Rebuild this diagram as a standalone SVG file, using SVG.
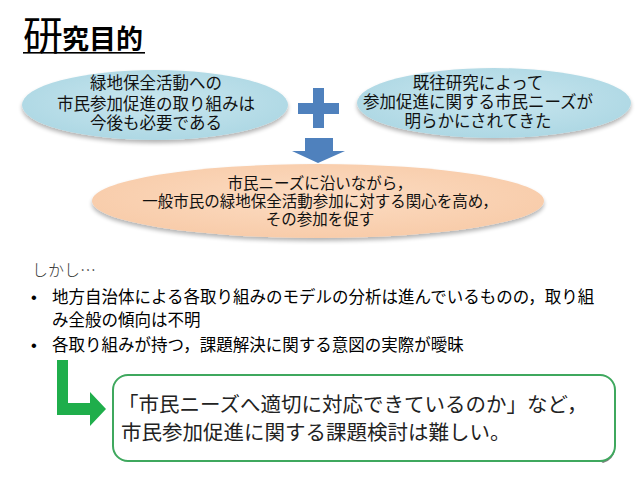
<svg xmlns="http://www.w3.org/2000/svg" width="638" height="479" viewBox="0 0 638 479">
<defs>
<radialGradient id="blue" cx="50%" cy="45%" r="55%">
<stop offset="0" stop-color="#c9e6ef"/>
<stop offset="1" stop-color="#aed8e4"/>
</radialGradient>
<radialGradient id="peach" cx="50%" cy="45%" r="55%">
<stop offset="0" stop-color="#fcdcc2"/>
<stop offset="1" stop-color="#f8ccaa"/>
</radialGradient>
<filter id="sh" x="-10%" y="-20%" width="120%" height="150%">
<feGaussianBlur in="SourceAlpha" stdDeviation="2"/>
<feOffset dx="0" dy="3" result="b"/>
<feComponentTransfer><feFuncA type="linear" slope="0.3"/></feComponentTransfer>
<feMerge><feMergeNode/><feMergeNode in="SourceGraphic"/></feMerge>
</filter>
</defs>
<style>
.jp{font-family:"Liberation Serif","Noto Sans CJK JP",serif;fill:#111;}
.el{font-size:16.5px;text-anchor:middle;}
.pe{font-size:15.5px;text-anchor:middle;}
.go{font-family:"Liberation Sans","Noto Sans CJK JP",sans-serif;fill:#000;font-size:16.5px;}
.bx{font-size:20.5px;fill:#222;}
</style>
<rect width="638" height="479" fill="#fff"/>

<g id="title">
<text x="23" y="50" font-family="Liberation Serif,'Noto Sans CJK JP',serif" font-size="40" fill="#000">研</text>
<text x="62" y="49" font-family="'Noto Sans CJK JP',sans-serif" font-size="27" font-weight="bold" fill="#000">究目的</text>
<rect x="23" y="52" width="122" height="1.6" fill="#000"/>
</g>

<g id="node-left">
<ellipse cx="155" cy="105" rx="133" ry="35" fill="url(#blue)" filter="url(#sh)"/>
<text class="jp el" x="156" y="89">緑地保全活動への</text>
<text class="jp el" x="156" y="110">市民参加促進の取り組みは</text>
<text class="jp el" x="156" y="129">今後も必要である</text>
</g>

<g id="node-right">
<ellipse cx="494" cy="103" rx="137" ry="35" fill="url(#blue)" filter="url(#sh)"/>
<text class="jp el" x="478" y="89">既往研究によって</text>
<text class="jp el" x="478" y="108">参加促進に関する市民ニーズが</text>
<text class="jp el" x="478" y="127">明らかにされてきた</text>
</g>

<g id="plus">
<rect x="313" y="88" width="11" height="40" fill="#4f81bd"/>
<rect x="298" y="103" width="41" height="11" fill="#4f81bd"/>
</g>

<g id="connectors">
<polygon points="305,138 333,138 333,151 345,151 318,163 292,151 305,151" fill="#4f81bd"/>
<path d="M57,360 H68 V403 H90 V392 L106,409 L90,426 V415 H57 Z" fill="#1fae4b"/>
</g>

<g id="node-bottom">
<ellipse cx="318" cy="201" rx="226" ry="37" fill="url(#peach)" filter="url(#sh)"/>
<text class="jp pe" x="320" y="189">市民ニーズに沿いながら，</text>
<text class="jp pe" x="320" y="207">一般市民の緑地保全活動参加に対する関心を高め，</text>
<text class="jp pe" x="320" y="225">その参加を促す</text>
</g>

<g id="text-body">
<text x="32" y="276" font-family="'Noto Sans CJK JP',sans-serif" font-size="16" font-weight="300" fill="#333">しかし…</text>
<text class="go" x="31" y="303">•</text>
<text class="go" x="52" y="303">地方自治体による各取り組みのモデルの分析は進んでいるものの，取り組</text>
<text class="go" x="52" y="326">み全般の傾向は不明</text>
<text class="go" x="31" y="351">•</text>
<text class="go" x="52" y="351">各取り組みが持つ，課題解決に関する意図の実際が曖昧</text>
</g>

<g id="node-box">
<path d="M600,461 A15,15 0 0 0 615,446 V449 A15,15 0 0 1 603,463 Z" fill="#808080"/>
<rect x="113" y="375" width="502" height="86" rx="15" fill="#fff" stroke="#3fa85e" stroke-width="2"/>
<text class="jp bx" x="118" y="412">「市民ニーズへ適切に対応できているのか」など，</text>
<text class="jp bx" x="121" y="440">市民参加促進に関する課題検討は難しい。</text>
</g>
</svg>
